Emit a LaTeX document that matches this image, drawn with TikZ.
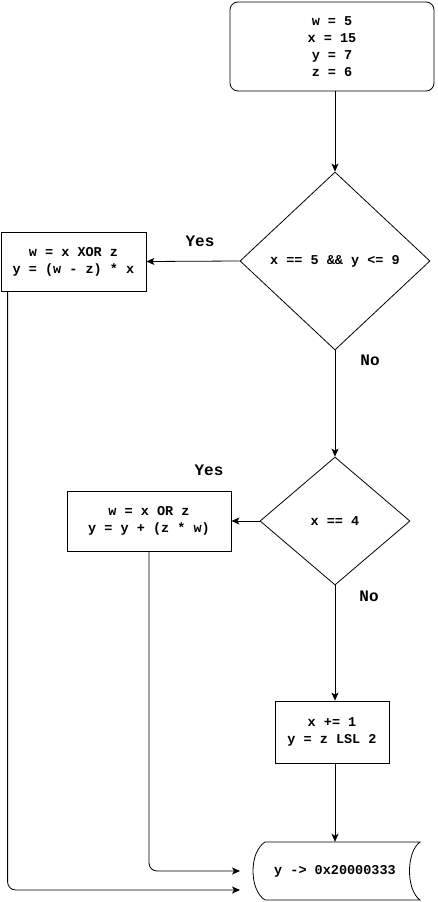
\documentclass[tikz,border=0pt]{standalone}
\usepackage{fontspec}
\setmonofont{Liberation Mono}
\usetikzlibrary{shapes.geometric,arrows.meta}
\begin{document}
\begin{tikzpicture}[x=1pt,y=-1pt,
  txt/.style={font=\ttfamily\bfseries\fontsize{13.5}{17}\selectfont, align=center},
  lbl/.style={font=\ttfamily\bfseries\fontsize{16}{18}\selectfont},
  box/.style={draw, line width=0.8pt, txt, inner sep=0pt},
  dia/.style={draw, diamond, line width=0.8pt, txt, inner sep=0pt},
  arr/.style={-{Stealth[length=8pt,width=7pt,inset=2pt]}, line width=0.8pt}]
\useasboundingbox (0,0) rectangle (437,902);
\node[box, rounded corners=8pt, minimum width=204pt, minimum height=89pt] (start) at (332,46.5) {w = 5\\x = 15\\y = 7\\z = 6};
\node[dia, minimum width=190pt, minimum height=178pt] (d1) at (335,261) {x == 5 \&\& y <= 9};
\node[box, minimum width=145pt, minimum height=59pt] (b1) at (73.5,261.5) {w = x XOR z\\y = (w - z) * x};
\node[dia, minimum width=150pt, minimum height=128pt] (d2) at (335,521) {x == 4};
\node[box, minimum width=164pt, minimum height=60pt] (b2) at (149,521) {w = x OR z\\y = y + (z * w)};
\node[box, minimum width=114pt, minimum height=62pt] (b3) at (332,732) {x += 1\\y = z LSL 2};
\node[txt, minimum width=170pt, minimum height=58pt] (out) at (335,871) {y -> 0x20000333};
\draw[line width=0.8pt] (265,842) -- (420,842) .. controls (406,852) and (406,890) .. (420,900) -- (265,900) .. controls (249,890) and (249,852) .. (265,842) -- cycle;
\coordinate (in1) at (240,871);
\coordinate (in2) at (240,890);
\node[lbl] (yes1) at (200,241) {Yes};
\node[lbl] (no1) at (370,360) {No};
\node[lbl] (yes2) at (209,470) {Yes};
\node[lbl] (no2) at (369,596) {No};
\draw[arr] (d1.north |- start.south) -- (d1.north);
\draw[arr] (d1.west) -- (b1.east);
\draw[arr] (d1.south) -- (d2.north);
\draw[arr] (d2.west) -- (b2.east);
\draw[arr] (d2.south) -- (d2.south |- b3.north);
\draw[arr] (d2.south |- b3.south) -- (out.north);
\draw[arr, rounded corners=8pt] (b2.south) |- (in1);
\draw[arr, rounded corners=8pt] ([xshift=7pt]b1.south west) |- (in2);
\end{tikzpicture}
\end{document}
